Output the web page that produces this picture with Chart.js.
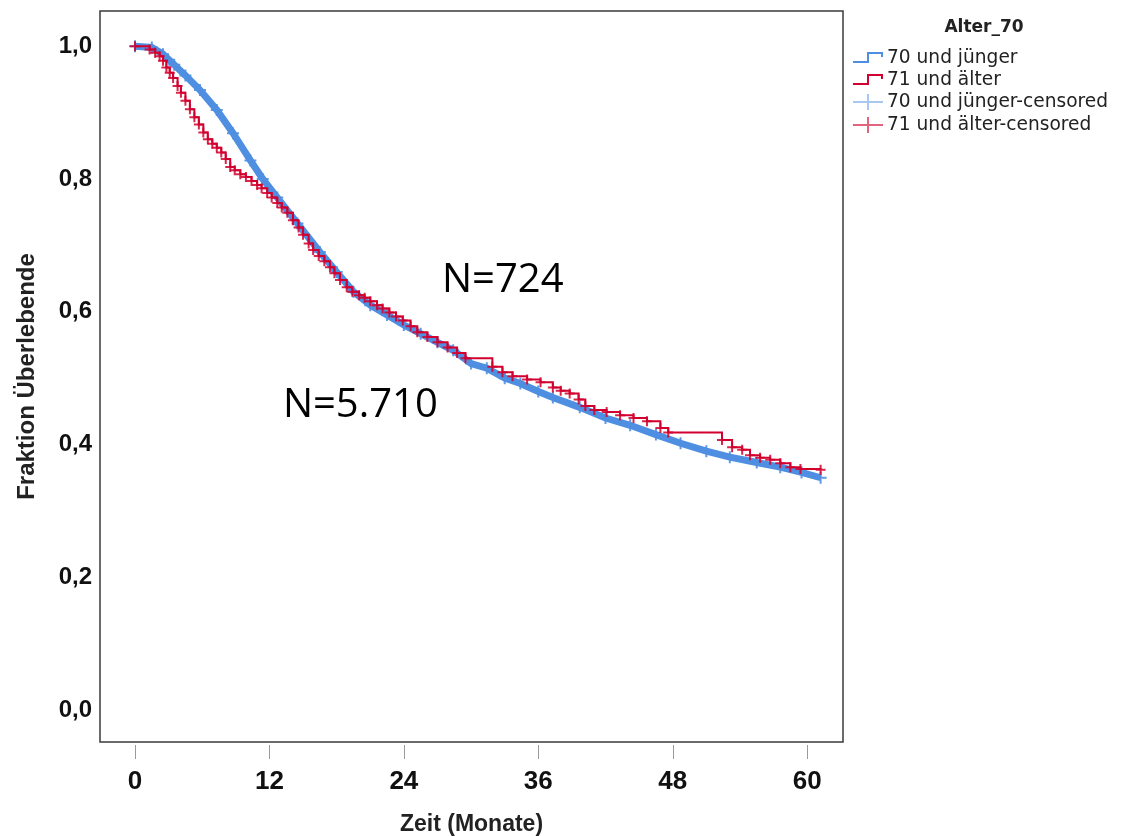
<!DOCTYPE html>
<html>
<head>
<meta charset="utf-8">
<script src="https://cdn.jsdelivr.net/npm/chart.js@4.4.1/dist/chart.umd.min.js"></script>
<style>
  body { margin: 0; background: #fff; }
  #wrap { width: 1122px; height: 836px; }
</style>
</head>
<body>
<div id="wrap"><canvas id="km" width="1122" height="836"></canvas></div>
<script>
// x ticks (months) and y ticks (fraction)
var xTicks = [0, 12, 24, 36, 48, 60];
var yTicks = [0, 0.2, 0.4, 0.6, 0.8, 1.0];

var groupTitle = 'Alter_70';
var seriesNames = ['70 und jünger', '71 und älter', '70 und jünger-censored', '71 und älter-censored'];

// 70 und jünger (N=5.710)
var youngT = [0, 1.5, 2.5, 3.5, 4.5, 5.8, 7.3, 8.75, 10.3, 11.4, 12.7, 14.5, 16.5, 18.0, 19.5, 21.0, 22.5, 24.0, 25.5, 27.0, 28.4, 30.0, 31.4, 33.0, 34.4, 36.0, 37.3, 39.7, 42.0, 44.2, 46.5, 48.7, 51.0, 53.1, 55.5, 57.6, 59.5, 61.2];
var youngS = [1.0, 0.998, 0.988, 0.972, 0.956, 0.934, 0.904, 0.869, 0.828, 0.800, 0.772, 0.733, 0.690, 0.660, 0.630, 0.610, 0.595, 0.580, 0.567, 0.554, 0.542, 0.522, 0.515, 0.500, 0.492, 0.480, 0.471, 0.456, 0.440, 0.429, 0.415, 0.402, 0.390, 0.381, 0.373, 0.366, 0.358, 0.350];

// 71 und älter (N=724), step corners
var oldT = [0, 1.3, 1.8, 2.2, 2.5, 2.8, 3.1, 3.4, 3.8, 4.1, 4.5, 4.9, 5.3, 5.7, 6.1, 6.5, 6.9, 7.3, 7.7, 8.1, 8.5, 8.9, 9.4, 9.9, 10.4, 10.9, 11.3, 11.8, 12.2, 12.7, 13.1, 13.6, 14.1, 14.6, 15.0, 15.5, 15.9, 16.4, 16.9, 17.4, 17.8, 18.3, 18.9, 19.4, 20.0, 20.5, 21.0, 21.6, 22.1, 22.7, 23.3, 23.9, 24.6, 25.2, 26.1, 27.0, 27.9, 28.75, 29.5, 31.9, 32.8, 33.7, 35.0, 36.2, 37.3, 38.0, 38.8, 39.6, 40.2, 41.0, 42.1, 43.3, 44.5, 45.7, 46.9, 47.6, 52.4, 53.3, 54.2, 54.9, 55.8, 56.7, 57.6, 58.5, 59.4, 61.2];
var oldS = [1.0, 0.995, 0.990, 0.985, 0.978, 0.968, 0.960, 0.952, 0.940, 0.930, 0.918, 0.905, 0.893, 0.882, 0.870, 0.860, 0.853, 0.847, 0.840, 0.830, 0.818, 0.813, 0.807, 0.803, 0.797, 0.791, 0.786, 0.779, 0.772, 0.764, 0.757, 0.749, 0.738, 0.727, 0.716, 0.703, 0.693, 0.684, 0.676, 0.667, 0.658, 0.648, 0.637, 0.630, 0.625, 0.621, 0.616, 0.610, 0.605, 0.599, 0.593, 0.587, 0.578, 0.569, 0.562, 0.554, 0.546, 0.538, 0.530, 0.517, 0.509, 0.503, 0.498, 0.494, 0.486, 0.481, 0.477, 0.468, 0.458, 0.452, 0.449, 0.444, 0.440, 0.435, 0.425, 0.418, 0.407, 0.396, 0.392, 0.384, 0.380, 0.377, 0.372, 0.366, 0.363, 0.362];

var notes = [
  { text: 'N=724', t: 27.4, s: 0.63 },
  { text: 'N=5.710', t: 13.2, s: 0.441 }
];

var blue = '#4f8fe2', blueLight = '#a8c8f2';
var red = '#d2002e', redLight = '#e2647e';

function pts(t, s) {
  var out = [];
  for (var i = 0; i < t.length; i++) out.push({ x: t[i], y: s[i] });
  return out;
}

var framePlugin = {
  id: 'frame',
  beforeDatasetsDraw: function(chart) {
    var a = chart.chartArea, ctx = chart.ctx;
    ctx.save();
    ctx.strokeStyle = '#3a3a3a';
    ctx.lineWidth = 1.5;
    ctx.strokeRect(a.left, a.top, a.right - a.left, a.bottom - a.top);
    // x tick marks, drawn a little below the frame
    var xs = chart.scales.x;
    ctx.strokeStyle = '#9a9a9a';
    ctx.lineWidth = 1;
    xTicks.forEach(function(v) {
      var px = Math.round(xs.getPixelForValue(v)) + 0.5;
      ctx.beginPath();
      ctx.moveTo(px, a.bottom + 3);
      ctx.lineTo(px, a.bottom + 17);
      ctx.stroke();
    });
    ctx.restore();
  },
  afterDraw: function(chart) {
    var ctx = chart.ctx, xs = chart.scales.x, ys = chart.scales.y;
    ctx.save();
    // N annotations
    ctx.fillStyle = '#000';
    ctx.font = '40px "Open Sans"';
    ctx.textBaseline = 'alphabetic';
    ctx.textAlign = 'left';
    notes.forEach(function(n) {
      ctx.fillText(n.text, xs.getPixelForValue(n.t), ys.getPixelForValue(n.s));
    });
    // legend
    ctx.fillStyle = '#222';
    ctx.font = 'bold 17px "DejaVu Sans"';
    ctx.textAlign = 'center';
    ctx.textBaseline = 'middle';
    ctx.fillText(groupTitle, 984, 28);
    ctx.font = '18.6px "DejaVu Sans"';
    ctx.textAlign = 'left';
    var rows = [58, 80, 102, 125];
    var cols = [blue, red, blueLight, redLight];
    for (var i = 0; i < 4; i++) {
      var y = rows[i];
      ctx.strokeStyle = cols[i];
      ctx.lineWidth = 2;
      ctx.beginPath();
      if (i < 2) {
        ctx.moveTo(853, y + 4);
        ctx.lineTo(868, y + 4);
        ctx.lineTo(868, y - 5);
        ctx.lineTo(882, y - 5);
        ctx.lineTo(882, y - 1);
      } else {
        ctx.moveTo(853, y);
        ctx.lineTo(883, y);
        ctx.moveTo(868, y - 8);
        ctx.lineTo(868, y + 8);
      }
      ctx.stroke();
      ctx.fillText(seriesNames[i], 887, y);
    }
    ctx.restore();
  }
};

var ctx = document.getElementById('km').getContext('2d');
var chart = new Chart(ctx, {
  type: 'line',
  data: {
    datasets: [{
      label: seriesNames[1],
      data: pts(oldT, oldS),
      borderColor: red,
      borderWidth: 2,
      stepped: 'before',
      pointStyle: 'cross',
      pointRadius: 5,
      pointBorderWidth: 2,
      pointBorderColor: 'rgba(210,0,46,0.85)',
      order: 0
    }, {
      label: seriesNames[0],
      data: pts(youngT, youngS),
      borderColor: blue,
      borderWidth: 7,
      tension: 0,
      pointStyle: 'cross',
      pointRadius: 6,
      pointBorderWidth: 2,
      pointBorderColor: 'rgba(79,143,226,0.9)',
      order: 1
    }]
  },
  options: {
    responsive: false,
    animation: false,
    layout: { padding: { top: 11, right: 279, left: 0, bottom: 0 } },
    plugins: { legend: { display: false }, tooltip: { enabled: false } },
    scales: {
      x: {
        type: 'linear',
        min: -3.125,
        max: 63.2,
        grid: { display: false, drawTicks: false },
        border: { display: false },
        afterBuildTicks: function(s) { s.ticks = xTicks.map(function(v) { return { value: v }; }); },
        afterFit: function(s) { s.height = 94; s.paddingLeft = 0; s.paddingRight = 0; },
        ticks: {
          padding: 24,
          color: '#111',
          font: { family: 'Liberation Sans', size: 26, weight: 'bold' },
          callback: function(v) { return String(v); }
        },
        title: {
          display: true,
          text: 'Zeit (Monate)',
          color: '#222',
          padding: { top: 0, bottom: 0 },
          font: { family: 'Liberation Sans', size: 23, weight: 'bold', lineHeight: 1 }
        }
      },
      y: {
        min: -0.048,
        max: 1.053,
        grid: { display: false, drawTicks: false },
        border: { display: false },
        afterBuildTicks: function(s) { s.ticks = yTicks.map(function(v) { return { value: v }; }); },
        afterFit: function(s) { s.width = 100; s.paddingTop = 0; s.paddingBottom = 0; },
        ticks: {
          padding: 8,
          color: '#111',
          font: { family: 'Liberation Sans', size: 24, weight: 'bold' },
          callback: function(v) { return v.toFixed(1).replace('.', ','); }
        },
        title: {
          display: true,
          text: 'Fraktion Überlebende',
          color: '#222',
          padding: { top: 15, bottom: 0 },
          font: { family: 'Liberation Sans', size: 24, weight: 'bold', lineHeight: 1 }
        }
      }
    }
  },
  plugins: [framePlugin]
});
</script>
</body>
</html>
